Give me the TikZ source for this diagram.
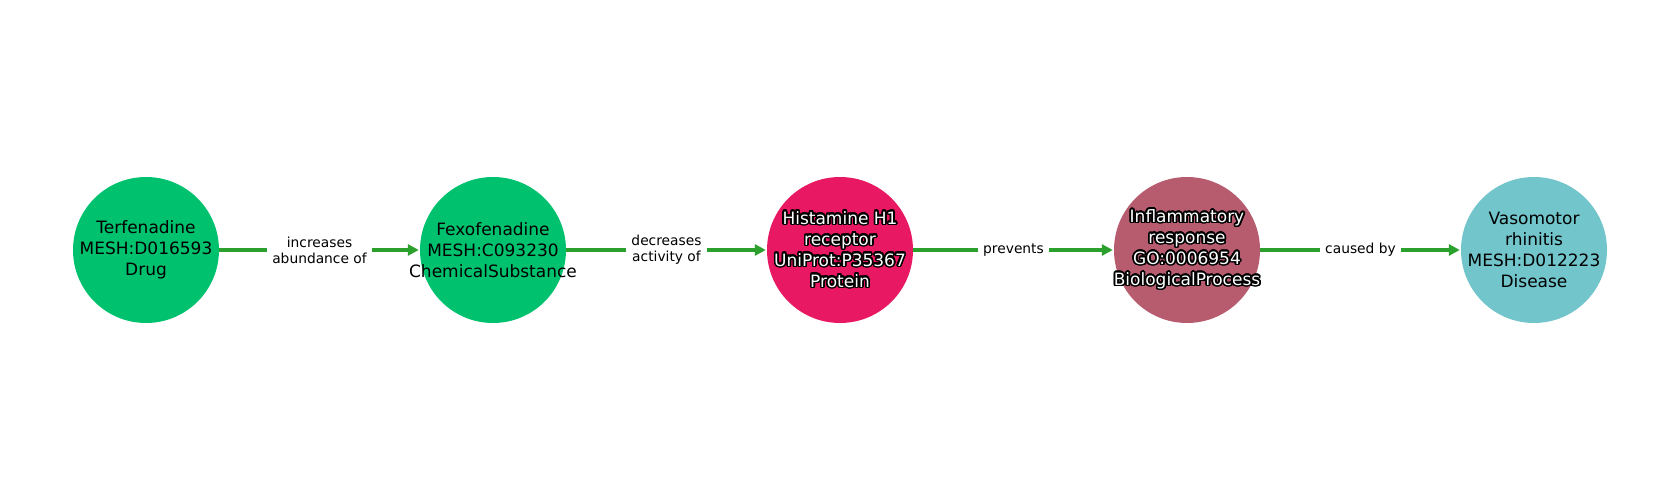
\documentclass[tikz,border=0pt]{standalone}
\usepackage{fontspec}
\setmainfont{DejaVu Sans}
\usepackage[copies]{contour}
\contourlength{1.6pt}
\contournumber{24}
\usetikzlibrary{arrows.meta}
\definecolor{ngreen}{RGB}{0,194,110}
\definecolor{npink}{RGB}{232,25,98}
\definecolor{nmauve}{RGB}{183,91,111}
\definecolor{ncyan}{RGB}{113,197,203}
\definecolor{egreen}{RGB}{44,160,44}
\newcommand{\wt}[1]{\contour{black}{\textcolor{white}{#1}}}
\begin{document}
\begin{tikzpicture}[x=1pt,y=1pt,
  ent/.style={circle,minimum size=146pt,inner sep=0pt},
  ttl/.style={inner sep=0pt,align=center,font=\fontsize{17}{21}\selectfont},
  rel/.style={draw=egreen,line width=3.6pt,-{Triangle[length=11pt,width=11pt]},shorten >=1pt},
  lbl/.style={fill=white,inner sep=5pt,align=center,text=black,
    font=\fontsize{13.8}{15.8}\selectfont}]
\useasboundingbox (0,0) rectangle (1680,500);
\node[ent,fill=ngreen] (a) at (146,250) {};
\node[ent,fill=ngreen] (b) at (493,250) {};
\node[ent,fill=npink] (c) at (840,250) {};
\node[ent,fill=nmauve] (d) at (1187,250) {};
\node[ent,fill=ncyan] (e) at (1534,250) {};
\node[ttl] (ta) at (a) {Terfenadine\\MESH:D016593\\Drug};
\node[ttl] (tb) at (b) {Fexofenadine\\MESH:C093230\\ChemicalSubstance};
\node[ttl] (tc) at (c) {\wt{Histamine H1}\\\wt{receptor}\\\wt{UniProt:P35367}\\\wt{Protein}};
\node[ttl] (td) at (d) {\wt{Inflammatory}\\\wt{response}\\\wt{GO:0006954}\\\wt{BiologicalProcess}};
\node[ttl] (te) at (e) {Vasomotor\\rhinitis\\MESH:D012223\\Disease};
\draw[rel] (a) -- node[lbl] {increases\\abundance of} (b);
\draw[rel] (b) -- node[lbl] {decreases\\activity of} (c);
\draw[rel] (c) -- node[lbl] {prevents} (d);
\draw[rel] (d) -- node[lbl] {caused by} (e);
\end{tikzpicture}
\end{document}
